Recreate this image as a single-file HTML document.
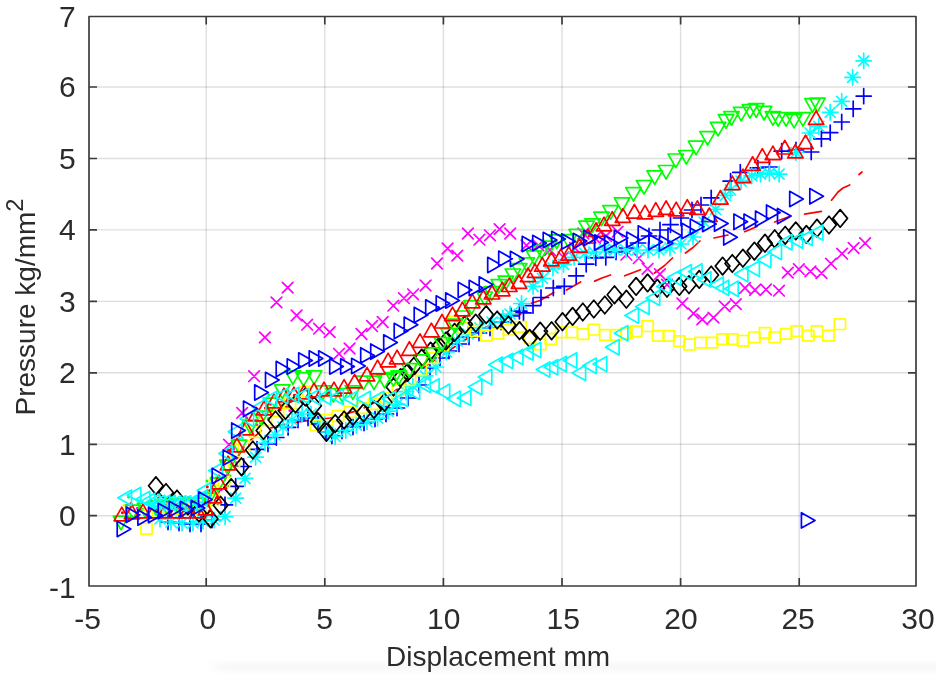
<!DOCTYPE html>
<html><head><meta charset="utf-8"><style>
html,body{margin:0;padding:0;background:#fff;width:936px;height:680px;overflow:hidden}
svg{display:block}
text{font-family:"Liberation Sans",Arial,sans-serif;fill:#2b2b2b}
.tl text{font-size:30px}
.xl{font-size:28px;text-anchor:middle}
.yl{font-size:28px;text-anchor:middle}
</style></head><body>
<svg style="filter:blur(0.45px)" width="936" height="680" viewBox="0 0 936 680">
<rect x="0" y="0" width="936" height="680" fill="#fff"/>
<defs><linearGradient id="bg1" x1="0" y1="0" x2="0" y2="1"><stop offset="0" stop-color="#fff"/><stop offset="0.5" stop-color="#f7f7f7"/><stop offset="1" stop-color="#fff"/></linearGradient><linearGradient id="bg2" x1="0" y1="0" x2="1" y2="0"><stop offset="0" stop-color="#fff" stop-opacity="1"/><stop offset="1" stop-color="#fff" stop-opacity="0"/></linearGradient></defs><rect x="205" y="659" width="731" height="16" fill="url(#bg1)"/><rect x="205" y="659" width="22" height="16" fill="url(#bg2)"/>
<path d="M206.2 16.5V586 M324.8 16.5V586 M443.4 16.5V586 M562.0 16.5V586 M680.6 16.5V586 M799.2 16.5V586" stroke="#000" stroke-opacity="0.13" stroke-width="1.4" fill="none"/>
<path d="M89 515.7H916 M89 444.3H916 M89 372.8H916 M89 301.4H916 M89 229.9H916 M89 158.5H916 M89 87.0H916" stroke="#000" stroke-opacity="0.13" stroke-width="1.4" fill="none"/>
<defs><clipPath id="clip"><rect x="89" y="16" width="827" height="570"/></clipPath></defs>
<g clip-path="url(#clip)"><path d="M128 518 L150 518 L175 518 L205 518 L215 500 L230 470 L245 445 L262 430 L290 423 L330 418 L360 410 L390 395 L420 370 L450 350 L480 330 L500 320" stroke="#ff0000" stroke-width="1.7" fill="none" stroke-dasharray="14 10" stroke-linecap="round"/>
<path d="M508.8 315.1 L520.7 314.5M531.3 303.2 L540 300.5 L553.8 292.6M566.5 290 L580.6 282M594.7 281.1 L602 278 L610.5 275M624.7 275.8 L640.5 269.7M654.5 273 L664 266 L672.5 258M685.5 253 L693 247.5 L700 241M714 238 L728 235M744.7 231.7 L757 226.5M774.7 222 L788.8 216.8M804.6 214.1 L821.4 211.3M831.5 200.2 L838 192 L843 188 L849.7 184.9M859 174.5 L862 172" stroke="#ff0000" stroke-width="1.7" fill="none" stroke-linecap="round" stroke-linejoin="round"/>
<path d="M155.6 509.8h0.01M177.7 506.9h0.01M242.1 438.2h0.01M130.6 507.3h0.01M242.8 422.9h0.01M240.7 439.4h0.01M268.8 394.9h0.01M232.6 466.4h0.01M167.3 498.8h0.01M168.7 507.2h0.01M167.7 502.4h0.01M211.9 477h0.01M265.4 414h0.01M170.3 513h0.01M143.1 509.2h0.01M252 432h0.01M266.2 409.1h0.01M236.6 465h0.01M222.5 467.8h0.01M180.2 506.1h0.01M159.3 509.8h0.01M237.5 439.7h0.01M226.3 475.9h0.01M207.3 490.6h0.01M131.7 516.3h0.01M228.4 451.7h0.01M229.3 481.7h0.01M231 464.1h0.01M229.9 475.8h0.01M211.4 486.6h0.01M281 405.1h0.01M268.4 418.5h0.01M259.8 417.1h0.01M203.7 499.2h0.01M222.4 462.6h0.01M216 477.7h0.01M226.6 471.2h0.01M207 481.1h0.01M160.9 512.7h0.01M262.9 423.4h0.01M183.9 511h0.01M128.5 497.1h0.01M246.2 418.1h0.01M231.1 443.3h0.01M155.7 499.7h0.01" stroke="#00ff00" stroke-width="3" stroke-linecap="round" fill="none"/>
<path d="M297.7 392.1h0.01M143.7 510.1h0.01M235.7 443.7h0.01M233.3 448.6h0.01M210.3 495.6h0.01M306.9 401.7h0.01M209.7 480.3h0.01M123.7 505.2h0.01M212.9 502.2h0.01M222 455.9h0.01M187.8 507.2h0.01M302.8 395.2h0.01M280.9 408.6h0.01M283 408.1h0.01M209.3 513.1h0.01M160.2 509.6h0.01M216.4 485.1h0.01M282.5 407.8h0.01M207.6 511.9h0.01M217 492.9h0.01M245.6 425.9h0.01M197.8 501h0.01M274.4 410.3h0.01M198.9 511h0.01M221.1 479.1h0.01" stroke="#ffff00" stroke-width="3" stroke-linecap="round" fill="none"/>
<path d="M174.5 505.2h0.01M233.8 447.6h0.01M127.1 505h0.01M181.8 507h0.01M263.8 414.1h0.01M155.6 512h0.01M227.1 475.5h0.01M137.4 508.2h0.01M180.2 514h0.01M221.1 489.7h0.01M252.1 430.9h0.01M257 425.1h0.01M265.3 399.6h0.01M177.1 506.1h0.01M230.5 450.8h0.01M203.9 502.1h0.01M236.6 462.8h0.01M289.8 410.5h0.01" stroke="#ff00ff" stroke-width="3" stroke-linecap="round" fill="none"/>
<path d="M166.1 505.7h0.01M146.4 503.8h0.01M286.3 407h0.01M170.6 503.3h0.01M151.2 501h0.01M289 407.2h0.01M252.4 413.9h0.01M238.3 457h0.01M265.4 407.9h0.01M239.5 435.6h0.01M209.9 490.6h0.01M270.7 404.2h0.01M280.1 409.7h0.01M266.4 408.3h0.01M229.7 450.3h0.01M195.2 499.1h0.01M131 503.5h0.01M223.5 467.1h0.01M293.9 399.4h0.01M167.8 503h0.01M205.5 501.3h0.01M233.8 457.7h0.01M127.3 511.4h0.01M228.1 449.9h0.01M158.7 498h0.01M249.6 444.4h0.01M255.8 420.2h0.01M194.1 512.6h0.01M217.7 497.8h0.01M257.2 409h0.01M207.3 486.7h0.01M288 391.3h0.01M122.4 512.7h0.01M198.8 496.7h0.01M294.3 395.3h0.01" stroke="#ff0000" stroke-width="3" stroke-linecap="round" fill="none"/>
<path d="M223.7 439.4L234.3 450M223.7 450L234.3 439.4M236.9 407.6L247.5 418.2M236.9 418.2L247.5 407.6M248.8 370.9L259.4 381.5M248.8 381.5L259.4 370.9M259.6 332.1L270.2 342.7M259.6 342.7L270.2 332.1M271.2 297.1L281.8 307.7M271.2 307.7L281.8 297.1M282.4 282.3L293 292.9M282.4 292.9L293 282.3M291.3 310.2L301.9 320.8M291.3 320.8L301.9 310.2M301.9 319.4L312.5 330M301.9 330L312.5 319.4M313.8 323.4L324.4 334M313.8 334L324.4 323.4M324.4 326.8L335 337.4M324.4 337.4L335 326.8M333.7 348.5L344.3 359.1M333.7 359.1L344.3 348.5M344.3 343.2L354.9 353.8M344.3 353.8L354.9 343.2M356.2 328.7L366.8 339.3M356.2 339.3L366.8 328.7M366.8 320.7L377.4 331.3M366.8 331.3L377.4 320.7M377.4 316.7L388 327.3M377.4 327.3L388 316.7M388 300.4L398.6 311M388 311L398.6 300.4M398.6 292.9L409.2 303.5M398.6 303.5L409.2 292.9M407.8 289L418.4 299.6M407.8 299.6L418.4 289M420.3 280.2L430.9 290.8M420.3 290.8L430.9 280.2M431.7 258.2L442.3 268.8M431.7 268.8L442.3 258.2M442.3 243.2L452.9 253.8M442.3 253.8L452.9 243.2M452 250.3L462.6 260.9M452 260.9L462.6 250.3M462.6 228.2L473.2 238.8M462.6 238.8L473.2 228.2M474.1 234.4L484.7 245M474.1 245L484.7 234.4M484.7 230L495.3 240.6M484.7 240.6L495.3 230M494.3 223.8L504.9 234.4M494.3 234.4L504.9 223.8M504.9 228.2L515.5 238.8M504.9 238.8L515.5 228.2M521.2 240.1L531.8 250.7M521.2 250.7L531.8 240.1M533.1 240.1L543.7 250.7M533.1 250.7L543.7 240.1M544.7 244.7L555.3 255.3M544.7 255.3L555.3 244.7M558.2 252L568.8 262.6M558.2 262.6L568.8 252M569.7 242.7L580.3 253.3M569.7 253.3L580.3 242.7M578 228.2L588.6 238.8M578 238.8L588.6 228.2M589.7 232.7L600.3 243.3M589.7 243.3L600.3 232.7M600.7 230.7L611.3 241.3M600.7 241.3L611.3 230.7M612.3 226.4L622.9 237M612.3 237L622.9 226.4M621.1 249.4L631.7 260M621.1 260L631.7 249.4M633.5 252.9L644.1 263.5M633.5 263.5L644.1 252.9M642.3 263.5L652.9 274.1M642.3 274.1L652.9 263.5M654.6 268.8L665.2 279.4M654.6 279.4L665.2 268.8M661.7 279.4L672.3 290M661.7 290L672.3 279.4M677.1 298.2L687.7 308.8M677.1 308.8L687.7 298.2M688.2 308.2L698.8 318.8M688.2 318.8L698.8 308.2M697 314.1L707.6 324.7M697 324.7L707.6 314.1M708.2 312.3L718.8 322.9M708.2 322.9L718.8 312.3M719.4 301.1L730 311.7M719.4 311.7L730 301.1M730.5 298.8L741.1 309.4M730.5 309.4L741.1 298.8M739.7 282.7L750.3 293.3M739.7 293.3L750.3 282.7M749.7 284.7L760.3 295.3M749.7 295.3L760.3 284.7M760.7 284.2L771.3 294.8M760.7 294.8L771.3 284.2M773.7 285.4L784.3 296M773.7 296L784.3 285.4M782.5 267.3L793.1 277.9M782.5 277.9L793.1 267.3M793.6 263.9L804.2 274.5M793.6 274.5L804.2 263.9M805.1 266.1L815.7 276.7M805.1 276.7L815.7 266.1M816.2 267.8L826.8 278.4M816.2 278.4L826.8 267.8M825.7 258.4L836.3 269M825.7 269L836.3 258.4M836.8 248.4L847.4 259M836.8 259L847.4 248.4M848.3 242.7L858.9 253.3M848.3 253.3L858.9 242.7M859.8 237.9L870.4 248.5M859.8 248.5L870.4 237.9" stroke="#ff00ff" stroke-width="1.7" fill="none" stroke-linejoin="round" stroke-linecap="round"/>
<path d="M160.4 522H175.6M168 514.4V529.6M171.4 523H186.6M179 515.4V530.6M182.4 524H197.6M190 516.4V531.6M193.4 524H208.6M201 516.4V531.6M204.4 520H219.6M212 512.4V527.6M217.4 504.8H232.6M225 497.2V512.4M228.1 486.3H243.3M235.7 478.7V493.9M236.1 466.5H251.3M243.7 458.9V474.1M249.4 449.3H264.6M257 441.7V456.9M260.4 444H275.6M268 436.4V451.6M268.7 437.5H283.9M276.3 429.9V445.1M280.5 427.4H295.7M288.1 419.8V435M290.4 420H305.6M298 412.4V427.6M300.4 418H315.6M308 410.4V425.6M310.4 424H325.6M318 416.4V431.6M318.4 432H333.6M326 424.4V439.6M324.3 436H339.5M331.9 428.4V443.6M334.4 431H349.6M342 423.4V438.6M345.4 427H360.6M353 419.4V434.6M356.4 423H371.6M364 415.4V430.6M367.4 419H382.6M375 411.4V426.6M378.4 414H393.6M386 406.4V421.6M389.4 408H404.6M397 400.4V415.6M400.4 398H415.6M408 390.4V405.6M411.4 385H426.6M419 377.4V392.6M422.4 368H437.6M430 360.4V375.6M432.4 358H447.6M440 350.4V365.6M441.4 351H456.6M449 343.4V358.6M451.4 344H466.6M459 336.4V351.6M461.4 337H476.6M469 329.4V344.6M471.4 333H486.6M479 325.4V340.6M482.4 328H497.6M490 320.4V335.6M493.4 322H508.6M501 314.4V329.6M503.4 316H518.6M511 308.4V323.6M511.8 311.2H527M519.4 303.6V318.8M515.9 312.9H531.1M523.5 305.3V320.5M525.4 305.6H540.6M533 298V313.2M533.4 297.5H548.6M541 289.9V305.1M545.7 288H560.9M553.3 280.4V295.6M556.7 286.4H571.9M564.3 278.8V294M568.6 275.8H583.8M576.2 268.2V283.4M578.6 264.2H593.8M586.2 256.6V271.8M588.2 257.8H603.4M595.8 250.2V265.4M598.2 257.3H613.4M605.8 249.7V264.9M608.4 252H623.6M616 244.4V259.6M619.4 248H634.6M627 240.4V255.6M630.4 243H645.6M638 235.4V250.6M641.4 236H656.6M649 228.4V243.6M652.4 230H667.6M660 222.4V237.6M662.9 224.7H678.1M670.5 217.1V232.3M673.4 218H688.6M681 210.4V225.6M684.4 210H699.6M692 202.4V217.6M693.4 205H708.6M701 197.4V212.6M703.6 197.9H718.8M711.2 190.3V205.5M723 181.1H738.2M730.6 173.5V188.7M732.7 172.3H747.9M740.3 164.7V179.9M750.3 167.9H765.5M757.9 160.3V175.5M761.8 167H777M769.4 159.4V174.6M774.1 151.2H789.3M781.7 143.6V158.8M788.4 150H803.6M796 142.4V157.6M803.6 152H818.8M811.2 144.4V159.6M813.8 138.8H829M821.4 131.2V146.4M822.6 132.6H837.8M830.2 125V140.2M834.1 122H849.3M841.7 114.4V129.6M845.6 108.8H860.8M853.2 101.2V116.4M856.1 96.1H871.3M863.7 88.5V103.7" stroke="#0000ff" stroke-width="1.7" fill="none" stroke-linejoin="round" stroke-linecap="round"/>
<path d="M152.3 519H167.7M160 511.3V526.7M155 514L165 524M155 524L165 514M163.3 522H178.7M171 514.3V529.7M166 517L176 527M166 527L176 517M174.3 523H189.7M182 515.3V530.7M177 518L187 528M177 528L187 518M185.3 523H200.7M193 515.3V530.7M188 518L198 528M188 528L198 518M195.3 521H210.7M203 513.3V528.7M198 516L208 526M198 526L208 516M206.3 520H221.7M214 512.3V527.7M209 515L219 525M209 525L219 515M217.4 516.7H232.8M225.1 509V524.4M220.1 511.7L230.1 521.7M220.1 521.7L230.1 511.7M228 498.2H243.4M235.7 490.5V505.9M230.7 493.2L240.7 503.2M230.7 503.2L240.7 493.2M237.3 478.4H252.7M245 470.7V486.1M240 473.4L250 483.4M240 483.4L250 473.4M247.9 457.2H263.3M255.6 449.5V464.9M250.6 452.2L260.6 462.2M250.6 462.2L260.6 452.2M257.3 443H272.7M265 435.3V450.7M260 438L270 448M260 448L270 438M267.3 435H282.7M275 427.3V442.7M270 430L280 440M270 440L280 430M275.3 427H290.7M283 419.3V434.7M278 422L288 432M278 432L288 422M284.3 420H299.7M292 412.3V427.7M287 415L297 425M287 425L297 415M294.3 414H309.7M302 406.3V421.7M297 409L307 419M297 419L307 409M303.3 414H318.7M311 406.3V421.7M306 409L316 419M306 419L316 409M312.3 422H327.7M320 414.3V429.7M315 417L325 427M315 427L325 417M320.3 432H335.7M328 424.3V439.7M323 427L333 437M323 437L333 427M327.5 436.5H342.9M335.2 428.8V444.2M330.2 431.5L340.2 441.5M330.2 441.5L340.2 431.5M338.1 430.5H353.5M345.8 422.8V438.2M340.8 425.5L350.8 435.5M340.8 435.5L350.8 425.5M348.7 425.2H364.1M356.4 417.5V432.9M351.4 420.2L361.4 430.2M351.4 430.2L361.4 420.2M359.3 421.7H374.7M367 414V429.4M362 416.7L372 426.7M362 426.7L372 416.7M369.9 418.2H385.3M377.6 410.5V425.9M372.6 413.2L382.6 423.2M372.6 423.2L382.6 413.2M380.4 411.1H395.8M388.1 403.4V418.8M383.1 406.1L393.1 416.1M383.1 416.1L393.1 406.1M389.3 404.1H404.7M397 396.4V411.8M392 399.1L402 409.1M392 409.1L402 399.1M398.2 391.7H413.6M405.9 384V399.4M400.9 386.7L410.9 396.7M400.9 396.7L410.9 386.7M405.2 386.4H420.6M412.9 378.7V394.1M407.9 381.4L417.9 391.4M407.9 391.4L417.9 381.4M417.6 375.9H433M425.3 368.2V383.6M420.3 370.9L430.3 380.9M420.3 380.9L430.3 370.9M428.2 367H443.6M435.9 359.3V374.7M430.9 362L440.9 372M430.9 372L440.9 362M438.7 352H454.1M446.4 344.3V359.7M441.4 347L451.4 357M441.4 357L451.4 347M449.3 341H464.7M457 333.3V348.7M452 336L462 346M452 346L462 336M460.3 334H475.7M468 326.3V341.7M463 329L473 339M463 339L473 329M472.3 328H487.7M480 320.3V335.7M475 323L485 333M475 333L485 323M484.3 322H499.7M492 314.3V329.7M487 317L497 327M487 327L497 317M495.3 318H510.7M503 310.3V325.7M498 313L508 323M498 323L508 313M502.3 314H517.7M510 306.3V321.7M505 309L515 319M505 319L515 309M513.8 303.5H529.2M521.5 295.8V311.2M516.5 298.5L526.5 308.5M516.5 308.5L526.5 298.5M525.4 286.4H540.8M533.1 278.7V294.1M528.1 281.4L538.1 291.4M528.1 291.4L538.1 281.4M534.8 278.5H550.2M542.5 270.8V286.2M537.5 273.5L547.5 283.5M537.5 283.5L547.5 273.5M545.2 267.9H560.6M552.9 260.2V275.6M547.9 262.9L557.9 272.9M547.9 272.9L557.9 262.9M555.8 264.4H571.2M563.5 256.7V272.1M558.5 259.4L568.5 269.4M558.5 269.4L568.5 259.4M566.4 257.3H581.8M574.1 249.6V265M569.1 252.3L579.1 262.3M569.1 262.3L579.1 252.3M577 253.4H592.4M584.7 245.7V261.1M579.7 248.4L589.7 258.4M579.7 258.4L589.7 248.4M586.2 252H601.6M593.9 244.3V259.7M588.9 247L598.9 257M588.9 257L598.9 247M596.8 249.4H612.2M604.5 241.7V257.1M599.5 244.4L609.5 254.4M599.5 254.4L609.5 244.4M607.3 250H622.7M615 242.3V257.7M610 245L620 255M610 255L620 245M618.3 250H633.7M626 242.3V257.7M621 245L631 255M621 255L631 245M629.3 250H644.7M637 242.3V257.7M632 245L642 255M632 255L642 245M640.3 250H655.7M648 242.3V257.7M643 245L653 255M643 255L653 245M651.3 250H666.7M659 242.3V257.7M654 245L664 255M654 255L664 245M662.3 248H677.7M670 240.3V255.7M665 243L675 253M665 253L675 243M673.3 244H688.7M681 236.3V251.7M676 239L686 249M676 249L686 239M685.3 237H700.7M693 229.3V244.7M688 232L698 242M688 242L698 232M696.3 222H711.7M704 214.3V229.7M699 217L709 227M699 227L709 217M707.9 209.4H723.3M715.6 201.7V217.1M710.6 204.4L720.6 214.4M710.6 214.4L720.6 204.4M717.6 195.3H733M725.3 187.6V203M720.3 190.3L730.3 200.3M720.3 200.3L730.3 190.3M722.9 190H738.3M730.6 182.3V197.7M725.6 185L735.6 195M725.6 195L735.6 185M733.4 181.1H748.8M741.1 173.4V188.8M736.1 176.1L746.1 186.1M736.1 186.1L746.1 176.1M744 175.9H759.4M751.7 168.2V183.6M746.7 170.9L756.7 180.9M746.7 180.9L756.7 170.9M752.8 174.1H768.2M760.5 166.4V181.8M755.5 169.1L765.5 179.1M755.5 179.1L765.5 169.1M761.7 173.2H777.1M769.4 165.5V180.9M764.4 168.2L774.4 178.2M764.4 178.2L774.4 168.2M771.4 174.1H786.8M779.1 166.4V181.8M774.1 169.1L784.1 179.1M774.1 179.1L784.1 169.1M788.3 152.5H803.7M796 144.8V160.2M791 147.5L801 157.5M791 157.5L801 147.5M802.3 133H817.7M810 125.3V140.7M805 128L815 138M805 138L815 128M811.1 126.4H826.5M818.8 118.7V134.1M813.8 121.4L823.8 131.4M813.8 131.4L823.8 121.4M822.5 112.3H837.9M830.2 104.6V120M825.2 107.3L835.2 117.3M825.2 117.3L835.2 107.3M834 101.4H849.4M841.7 93.7V109.1M836.7 96.4L846.7 106.4M836.7 106.4L846.7 96.4M844.9 77.4H860.3M852.6 69.7V85.1M847.6 72.4L857.6 82.4M847.6 82.4L857.6 72.4M856 60.8H871.4M863.7 53.1V68.5M858.7 55.8L868.7 65.8M858.7 65.8L868.7 55.8" stroke="#00ffff" stroke-width="1.7" fill="none" stroke-linejoin="round" stroke-linecap="round"/>
<path d="M140.9 523.5H152.1V534.1H140.9ZM152.4 506.7H163.6V517.3H152.4ZM164.4 503.7H175.6V514.3H164.4ZM176.4 503.7H187.6V514.3H176.4ZM188.4 503.7H199.6V514.3H188.4ZM199.4 501.7H210.6V512.3H199.4ZM208.4 494.7H219.6V505.3H208.4ZM218.4 476.7H229.6V487.3H218.4ZM228.4 456.7H239.6V467.3H228.4ZM238.4 440.7H249.6V451.3H238.4ZM249.4 426.7H260.6V437.3H249.4ZM260.4 414.7H271.6V425.3H260.4ZM272.4 405.7H283.6V416.3H272.4ZM284.4 397.7H295.6V408.3H284.4ZM299.7 386.4H310.9V397H299.7ZM310.2 419.9H321.4V430.5H310.2ZM321.4 414.7H332.6V425.3H321.4ZM332.4 410.7H343.6V421.3H332.4ZM344.4 406.7H355.6V417.3H344.4ZM356.4 402.7H367.6V413.3H356.4ZM368.4 398.7H379.6V409.3H368.4ZM380.4 392.7H391.6V403.3H380.4ZM392.4 384.7H403.6V395.3H392.4ZM404.4 374.7H415.6V385.3H404.4ZM415.4 364.7H426.6V375.3H415.4ZM426.4 352.7H437.6V363.3H426.4ZM437.4 339.7H448.6V350.3H437.4ZM447.6 316.4H458.8V327H447.6ZM457.4 322.7H468.6V333.3H457.4ZM470.1 325.7H481.3V336.3H470.1ZM480.7 330.3H491.9V340.9H480.7ZM492.4 328.3H503.6V338.9H492.4ZM503.2 324.4H514.4V335H503.2ZM515 321.5H526.2V332.1H515ZM524.4 332.7H535.6V343.3H524.4ZM534.7 339.1H545.9V349.7H534.7ZM545.2 333.7H556.4V344.3H545.2ZM555.6 327H566.8V337.6H555.6ZM566.1 327H577.3V337.6H566.1ZM577.6 328.8H588.8V339.4H577.6ZM588.2 324.4H599.4V335H588.2ZM599.7 329.7H610.9V340.3H599.7ZM610.2 329.7H621.4V340.3H610.2ZM620.8 327.9H632V338.5H620.8ZM630.5 326.1H641.7V336.7H630.5ZM642 320.9H653.2V331.5H642ZM652.6 330.6H663.8V341.2H652.6ZM663.1 330.6H674.3V341.2H663.1ZM673.7 335.8H684.9V346.4H673.7ZM683.8 339.2H695V349.8H683.8ZM695 337.3H706.2V347.9H695ZM706.4 337.3H717.6V347.9H706.4ZM717 333.8H728.2V344.4H717ZM726.7 333.8H737.9V344.4H726.7ZM737.3 335.5H748.5V346.1H737.3ZM748.8 332H760V342.6H748.8ZM759.4 327.6H770.6V338.2H759.4ZM769.1 332H780.3V342.6H769.1ZM780.5 328.5H791.7V339.1H780.5ZM791.1 325.8H802.3V336.4H791.1ZM802.6 330.3H813.8V340.9H802.6ZM811.4 325.8H822.6V336.4H811.4ZM822.8 330.3H834V340.9H822.8ZM834.3 318.9H845.5V329.5H834.3Z" stroke="#ffff00" stroke-width="1.7" fill="none" stroke-linejoin="round" stroke-linecap="round"/>
<path d="M155.9 476.9L163.2 485.7L155.9 494.5L148.6 485.7ZM166 483.7L173.3 492.5L166 501.3L158.7 492.5ZM177 490.2L184.3 499L177 507.8L169.7 499ZM188 497.2L195.3 506L188 514.8L180.7 506ZM199 504.2L206.3 513L199 521.8L191.7 513ZM210.6 510L217.9 518.8L210.6 527.6L203.3 518.8ZM220.6 496.5L227.9 505.3L220.6 514.1L213.3 505.3ZM231.2 478.8L238.5 487.6L231.2 496.4L223.9 487.6ZM241.5 458L248.8 466.8L241.5 475.6L234.2 466.8ZM252.8 441.2L260.1 450L252.8 458.8L245.5 450ZM263.5 421.7L270.8 430.5L263.5 439.3L256.2 430.5ZM275.5 411.2L282.8 420L275.5 428.8L268.2 420ZM285.5 401.7L292.8 410.5L285.5 419.3L278.2 410.5ZM295.5 395.2L302.8 404L295.5 412.8L288.2 404ZM305.3 388.2L312.6 397L305.3 405.8L298 397ZM314.1 397L321.4 405.8L314.1 414.6L306.8 405.8ZM318 412.9L325.3 421.7L318 430.5L310.7 421.7ZM326.4 423.5L333.7 432.3L326.4 441.1L319.1 432.3ZM335.2 414.7L342.5 423.5L335.2 432.3L327.9 423.5ZM344.1 411.2L351.4 420L344.1 428.8L336.8 420ZM352.9 407.6L360.2 416.4L352.9 425.2L345.6 416.4ZM363.5 404.1L370.8 412.9L363.5 421.7L356.2 412.9ZM374 400.6L381.3 409.4L374 418.2L366.7 409.4ZM384.6 393.5L391.9 402.3L384.6 411.1L377.3 402.3ZM393.5 378.2L400.8 387L393.5 395.8L386.2 387ZM400.6 368.8L407.9 377.6L400.6 386.4L393.3 377.6ZM407.6 363.5L414.9 372.3L407.6 381.1L400.3 372.3ZM414.7 356.5L422 365.3L414.7 374.1L407.4 365.3ZM421.7 349.4L429 358.2L421.7 367L414.4 358.2ZM430.6 342.3L437.9 351.1L430.6 359.9L423.3 351.1ZM439.4 337.1L446.7 345.9L439.4 354.7L432.1 345.9ZM446 332.2L453.3 341L446 349.8L438.7 341ZM454.6 323.5L461.9 332.3L454.6 341.1L447.3 332.3ZM465.1 315.6L472.4 324.4L465.1 333.2L457.8 324.4ZM475.7 314.3L483 323.1L475.7 331.9L468.4 323.1ZM486.2 305.9L493.5 314.7L486.2 323.5L478.9 314.7ZM497.2 311.2L504.5 320L497.2 328.8L489.9 320ZM508.5 316.2L515.8 325L508.5 333.8L501.2 325ZM519.5 321.9L526.8 330.7L519.5 339.5L512.2 330.7ZM529.6 329.6L536.9 338.4L529.6 347.2L522.3 338.4ZM540.2 322.4L547.5 331.2L540.2 340L532.9 331.2ZM551.6 322L558.9 330.8L551.6 339.6L544.3 330.8ZM562.5 312.9L569.8 321.7L562.5 330.5L555.2 321.7ZM572.6 307.6L579.9 316.4L572.6 325.2L565.3 316.4ZM582.8 303.2L590.1 312L582.8 320.8L575.5 312ZM593.8 300.2L601.1 309L593.8 317.8L586.5 309ZM604.8 296.2L612.1 305L604.8 313.8L597.5 305ZM614.5 286L621.8 294.8L614.5 303.6L607.2 294.8ZM626.4 290.4L633.7 299.2L626.4 308L619.1 299.2ZM636.1 277.6L643.4 286.4L636.1 295.2L628.8 286.4ZM647.6 274.1L654.9 282.9L647.6 291.7L640.3 282.9ZM657.3 279.4L664.6 288.2L657.3 297L650 288.2ZM667 279.4L674.3 288.2L667 297L659.7 288.2ZM679.3 277.6L686.6 286.4L679.3 295.2L672 286.4ZM689 275.9L696.3 284.7L689 293.5L681.7 284.7ZM699.2 270.6L706.5 279.4L699.2 288.2L691.9 279.4ZM711.2 266.2L718.5 275L711.2 283.8L703.9 275ZM722.6 257.3L729.9 266.1L722.6 274.9L715.3 266.1ZM732.3 254.7L739.6 263.5L732.3 272.3L725 263.5ZM742.9 249.4L750.2 258.2L742.9 267L735.6 258.2ZM754.4 242.3L761.7 251.1L754.4 259.9L747.1 251.1ZM765 234.4L772.3 243.2L765 252L757.7 243.2ZM774.7 230L782 238.8L774.7 247.6L767.4 238.8ZM785.2 226.5L792.5 235.3L785.2 244.1L777.9 235.3ZM795.8 222.1L803.1 230.9L795.8 239.7L788.5 230.9ZM806.4 225.6L813.7 234.4L806.4 243.2L799.1 234.4ZM817 219.4L824.3 228.2L817 237L809.7 228.2ZM829 216.2L836.3 225L829 233.8L821.7 225ZM840.2 209.6L847.5 218.4L840.2 227.2L832.9 218.4Z" stroke="#000000" stroke-width="1.7" fill="none" stroke-linejoin="round" stroke-linecap="round"/>
<path d="M113.3 516.2L128.7 516.2L121 529.8ZM125.3 505.2L140.7 505.2L133 518.8ZM137.3 503.2L152.7 503.2L145 516.8ZM148.3 501.2L163.7 501.2L156 514.8ZM159.3 500.2L174.7 500.2L167 513.8ZM170.3 499.2L185.7 499.2L178 512.8ZM181.3 498.2L196.7 498.2L189 511.8ZM191.3 498.2L206.7 498.2L199 511.8ZM200.3 493.2L215.7 493.2L208 506.8ZM210.3 478.2L225.7 478.2L218 491.8ZM219.7 460.2L235.1 460.2L227.4 473.8ZM231.4 440.2L246.8 440.2L239.1 453.8ZM242.6 420.2L258 420.2L250.3 433.8ZM253.3 411.2L268.7 411.2L261 424.8ZM263.3 398.2L278.7 398.2L271 411.8ZM274.6 384.9L290 384.9L282.3 398.5ZM285.2 370.8L300.6 370.8L292.9 384.4ZM295.8 372.6L311.2 372.6L303.5 386.2ZM306.4 370.8L321.8 370.8L314.1 384.4ZM315.2 385.8L330.6 385.8L322.9 399.4ZM325.8 388.5L341.2 388.5L333.5 402.1ZM334.6 388.5L350 388.5L342.3 402.1ZM345.2 385.8L360.6 385.8L352.9 399.4ZM355.8 376.1L371.2 376.1L363.5 389.7ZM366.3 376.1L381.7 376.1L374 389.7ZM376.9 374.3L392.3 374.3L384.6 387.9ZM385.7 372.6L401.1 372.6L393.4 386.2ZM391.1 370.8L406.5 370.8L398.8 384.4ZM401.7 363.7L417.1 363.7L409.4 377.3ZM414 354.9L429.4 354.9L421.7 368.5ZM424.6 347.9L440 347.9L432.3 361.5ZM434.2 337.5L449.6 337.5L441.9 351.1ZM440.8 328.7L456.2 328.7L448.5 342.3ZM447.3 319.2L462.7 319.2L455 332.8ZM454.8 311L470.2 311L462.5 324.6ZM463.8 300.7L479.2 300.7L471.5 314.3ZM477 292L492.4 292L484.7 305.6ZM484 286.7L499.4 286.7L491.7 300.3ZM491.1 279.6L506.5 279.6L498.8 293.2ZM498.1 276.1L513.5 276.1L505.8 289.7ZM505.2 269L520.6 269L512.9 282.6ZM511.5 263.7L526.9 263.7L519.2 277.3ZM519.1 257.8L534.5 257.8L526.8 271.4ZM526.5 250.9L541.9 250.9L534.2 264.5ZM534 245L549.4 245L541.7 258.6ZM541.5 241.2L556.9 241.2L549.2 254.8ZM549 234.9L564.4 234.9L556.7 248.5ZM561.1 234.7L576.5 234.7L568.8 248.3ZM569 229.4L584.4 229.4L576.7 243ZM578.8 221.2L594.2 221.2L586.5 234.8ZM584.9 218.8L600.3 218.8L592.6 232.4ZM593.8 212.2L609.2 212.2L601.5 225.8ZM602.8 205.7L618.2 205.7L610.5 219.3ZM614.3 197.9L629.7 197.9L622 211.5ZM625.8 187.6L641.2 187.6L633.5 201.2ZM636.4 180.5L651.8 180.5L644.1 194.1ZM647 170.8L662.4 170.8L654.7 184.4ZM658.4 165.5L673.8 165.5L666.1 179.1ZM668.1 154L683.5 154L675.8 167.6ZM678.7 150.5L694.1 150.5L686.4 164.1ZM688.4 141.2L703.8 141.2L696.1 154.8ZM699.9 131.6L715.3 131.6L707.6 145.2ZM710.4 122.3L725.8 122.3L718.1 135.9ZM718.3 114.7L733.7 114.7L726 128.3ZM723.8 111.7L739.2 111.7L731.5 125.3ZM733.5 107.3L748.9 107.3L741.2 120.9ZM742.3 104.6L757.7 104.6L750 118.2ZM748.5 103.7L763.9 103.7L756.2 117.3ZM756.4 106.4L771.8 106.4L764.1 120ZM765.2 111.7L780.6 111.7L772.9 125.3ZM770.5 112.6L785.9 112.6L778.2 126.2ZM778.4 112.6L793.8 112.6L786.1 126.2ZM786.4 114.3L801.8 114.3L794.1 127.9ZM795.2 112.6L810.6 112.6L802.9 126.2ZM804.8 98.7L820.2 98.7L812.5 112.3ZM809.8 98.2L825.2 98.2L817.5 111.8Z" stroke="#00ff00" stroke-width="1.7" fill="none" stroke-linejoin="round" stroke-linecap="round"/>
<path d="M114.1 520.8L121.8 507.2L129.5 520.8ZM124.3 518.8L132 505.2L139.7 518.8ZM135.3 517.8L143 504.2L150.7 517.8ZM146.3 517.8L154 504.2L161.7 517.8ZM157.3 517.8L165 504.2L172.7 517.8ZM168.3 517.8L176 504.2L183.7 517.8ZM179.3 517.8L187 504.2L194.7 517.8ZM190.3 517.8L198 504.2L205.7 517.8ZM198.3 514.8L206 501.2L213.7 514.8ZM206.3 502.8L214 489.2L221.7 502.8ZM211.3 488.8L219 475.2L226.7 488.8ZM220.3 469.8L228 456.2L235.7 469.8ZM229.3 451.8L237 438.2L244.7 451.8ZM238.3 434.8L246 421.2L253.7 434.8ZM248.3 420.8L256 407.2L263.7 420.8ZM256.3 414.8L264 401.2L271.7 414.8ZM266.3 407.8L274 394.2L281.7 407.8ZM276.3 401.8L284 388.2L291.7 401.8ZM286.3 400.8L294 387.2L301.7 400.8ZM296.3 398.8L304 385.2L311.7 398.8ZM306.3 396.8L314 383.2L321.7 396.8ZM316.3 395.8L324 382.2L331.7 395.8ZM326.3 395.8L334 382.2L341.7 395.8ZM336.4 393.2L344.1 379.6L351.8 393.2ZM346.9 387.9L354.6 374.3L362.3 387.9ZM359.3 380.9L367 367.3L374.7 380.9ZM369.9 373.8L377.6 360.2L385.3 373.8ZM380.4 366.8L388.1 353.2L395.8 366.8ZM389.4 363.8L397.1 350.2L404.8 363.8ZM401.7 355.3L409.4 341.7L417.1 355.3ZM412.3 347.4L420 333.8L427.7 347.4ZM423.7 336.8L431.4 323.2L439.1 336.8ZM434.3 328L442 314.4L449.7 328ZM444.8 320.7L452.5 307.1L460.2 320.7ZM454.7 315.8L462.4 302.2L470.1 315.8ZM464.6 307.8L472.3 294.2L480 307.8ZM475.6 303.8L483.3 290.2L491 303.8ZM484.3 299L492 285.4L499.7 299ZM494.6 295.8L502.3 282.2L510 295.8ZM501.6 291.5L509.3 277.9L517 291.5ZM511.3 288.4L519 274.8L526.7 288.4ZM520.3 281.6L528 268L535.7 281.6ZM527.3 277.4L535 263.8L542.7 277.4ZM534.6 271.2L542.3 257.6L550 271.2ZM543.7 265.9L551.4 252.3L559.1 265.9ZM553.1 262.8L560.8 249.2L568.5 262.8ZM561.1 260.2L568.8 246.6L576.5 260.2ZM571.7 252.2L579.4 238.6L587.1 252.2ZM580.3 243L588 229.4L595.7 243ZM588.3 236.4L596 222.8L603.7 236.4ZM596.3 230.8L604 217.2L611.7 230.8ZM604.6 225.3L612.3 211.7L620 225.3ZM615.2 222.3L622.9 208.7L630.6 222.3ZM626.7 218.1L634.4 204.5L642.1 218.1ZM637.3 218.9L645 205.3L652.7 218.9ZM648.1 216.3L655.8 202.7L663.5 216.3ZM658.4 214.4L666.1 200.8L673.8 214.4ZM668.5 215.8L676.2 202.2L683.9 215.8ZM679.6 213.2L687.3 199.6L695 213.2ZM689.7 214.4L697.4 200.8L705.1 214.4ZM701.7 221.5L709.4 207.9L717.1 221.5ZM712.7 204.2L720.4 190.6L728.1 204.2ZM724.6 189.7L732.3 176.1L740 189.7ZM735.2 182.7L742.9 169.1L750.6 182.7ZM744.9 170.3L752.6 156.7L760.3 170.3ZM754.6 162.3L762.3 148.7L770 162.3ZM765.2 159.7L772.9 146.1L780.6 159.7ZM777.1 154L784.8 140.4L792.5 154ZM787.7 157.9L795.4 144.3L803.1 157.9ZM797.8 148.7L805.5 135.1L813.2 148.7ZM808.4 124.4L816.1 110.8L823.8 124.4Z" stroke="#ff0000" stroke-width="1.7" fill="none" stroke-linejoin="round" stroke-linecap="round"/>
<path d="M131.5 490.1L117.9 497.8L131.5 505.5ZM140.8 487.3L127.2 495L140.8 502.7ZM149.8 491.3L136.2 499L149.8 506.7ZM154.8 493.3L141.2 501L154.8 508.7ZM159.8 494.3L146.2 502L159.8 509.7ZM164.8 495.3L151.2 503L164.8 510.7ZM169.8 495.3L156.2 503L169.8 510.7ZM175.3 495.3L161.7 503L175.3 510.7ZM180.8 495.8L167.2 503.5L180.8 511.2ZM185.8 495.8L172.2 503.5L185.8 511.2ZM190.8 495.8L177.2 503.5L190.8 511.2ZM196.8 495.3L183.2 503L196.8 510.7ZM202.8 494.3L189.2 502L202.8 509.7ZM206.8 490.3L193.2 498L206.8 505.7ZM210.8 482.6L197.2 490.3L210.8 498ZM222.4 462.9L208.8 470.6L222.4 478.3ZM232.4 445.8L218.8 453.5L232.4 461.2ZM241.8 424.1L228.2 431.8L241.8 439.5ZM253.6 411.1L240 418.8L253.6 426.5ZM265.8 399.3L252.2 407L265.8 414.7ZM276.8 391.3L263.2 399L276.8 406.7ZM287.8 388.3L274.2 396L287.8 403.7ZM298.8 387.3L285.2 395L298.8 402.7ZM308.8 388.3L295.2 396L308.8 403.7ZM319.8 389.3L306.2 397L319.8 404.7ZM330.8 389.3L317.2 397L330.8 404.7ZM343.3 389.3L329.7 397L343.3 404.7ZM357.4 391.3L343.8 399L357.4 406.7ZM370.3 391.3L356.7 399L370.3 406.7ZM383.8 391.3L370.2 399L383.8 406.7ZM395.8 391.3L382.2 399L395.8 406.7ZM407.4 391.1L393.8 398.8L407.4 406.5ZM419.7 384L406.1 391.7L419.7 399.4ZM430.3 377L416.7 384.7L430.3 392.4ZM439.1 378.7L425.5 386.4L439.1 394.1ZM449.7 384L436.1 391.7L449.7 399.4ZM460.3 391.1L446.7 398.8L460.3 406.5ZM470.9 390.2L457.3 397.9L470.9 405.6ZM481.8 379.3L468.2 387L481.8 394.7ZM491.8 369.3L478.2 377L491.8 384.7ZM502.3 357.1L488.7 364.8L502.3 372.5ZM512.8 353.3L499.2 361L512.8 368.7ZM522.9 349.3L509.3 357L522.9 364.7ZM533 344.8L519.4 352.5L533 360.2ZM540.8 342.3L527.2 350L540.8 357.7ZM549.8 361.9L536.2 369.6L549.8 377.3ZM557.8 359.5L544.2 367.2L557.8 374.9ZM566.2 356.4L552.6 364.1L566.2 371.8ZM576.8 352.8L563.2 360.5L576.8 368.2ZM585.6 365.2L572 372.9L585.6 380.6ZM596.2 358.1L582.6 365.8L596.2 373.5ZM606.8 356.4L593.2 364.1L606.8 371.8ZM619.1 339.6L605.5 347.3L619.1 355ZM627.9 325.5L614.3 333.2L627.9 340.9ZM638.5 307.8L624.9 315.5L638.5 323.2ZM649.1 299L635.5 306.7L649.1 314.4ZM659.7 290.2L646.1 297.9L659.7 305.6ZM670.3 278.7L656.7 286.4L670.3 294.1ZM680.8 269.9L667.2 277.6L680.8 285.3ZM691.4 264.6L677.8 272.3L691.4 280ZM702 263.7L688.4 271.4L702 279.1ZM710.9 271.7L697.3 279.4L710.9 287.1ZM723.3 277L709.7 284.7L723.3 292.4ZM728.8 280.2L715.2 287.9L728.8 295.6ZM738.2 281.1L724.6 288.8L738.2 296.5ZM747.9 266.4L734.3 274.1L747.9 281.8ZM759.4 261.1L745.8 268.8L759.4 276.5ZM770.9 252.3L757.3 260L770.9 267.7ZM781.5 244.3L767.9 252L781.5 259.7ZM792 234.6L778.4 242.3L792 250ZM802.6 232.9L789 240.6L802.6 248.3ZM812.3 230.2L798.7 237.9L812.3 245.6ZM822.9 224.9L809.3 232.6L822.9 240.3Z" stroke="#00ffff" stroke-width="1.7" fill="none" stroke-linejoin="round" stroke-linecap="round"/>
<path d="M117.2 521.3L130.8 529L117.2 536.7ZM126.2 507L139.8 514.7L126.2 522.4ZM137.9 509.9L151.5 517.6L137.9 525.3ZM148.5 507.3L162.1 515L148.5 522.7ZM158.2 503.3L171.8 511L158.2 518.7ZM169.2 501.3L182.8 509L169.2 516.7ZM180.2 501.3L193.8 509L180.2 516.7ZM191.2 500.3L204.8 508L191.2 515.7ZM198.5 491.8L212.1 499.5L198.5 507.2ZM212.2 468.3L225.8 476L212.2 483.7ZM223.2 449.9L236.8 457.6L223.2 465.3ZM231.7 422.9L245.3 430.6L231.7 438.3ZM243.5 401.1L257.1 408.8L243.5 416.5ZM254.7 384.8L268.3 392.5L254.7 400.2ZM265.5 372.3L279.1 380L265.5 387.7ZM276.2 361.3L289.8 369L276.2 376.7ZM287.2 358.8L300.8 366.5L287.2 374.2ZM298.7 352.8L312.3 360.5L298.7 368.2ZM309.2 350.8L322.8 358.5L309.2 366.2ZM318.7 350.8L332.3 358.5L318.7 366.2ZM329.7 358.8L343.3 366.5L329.7 374.2ZM340.7 358.8L354.3 366.5L340.7 374.2ZM351.6 358.3L365.2 366L351.6 373.7ZM360.7 347.7L374.3 355.4L360.7 363.1ZM370.7 343.9L384.3 351.6L370.7 359.3ZM383.7 334.8L397.3 342.5L383.7 350.2ZM394.2 323.3L407.8 331L394.2 338.7ZM404.2 317L417.8 324.7L404.2 332.4ZM414.2 307.3L427.8 315L414.2 322.7ZM425.7 299.8L439.3 307.5L425.7 315.2ZM436.2 295.8L449.8 303.5L436.2 311.2ZM445.7 292.8L459.3 300.5L445.7 308.2ZM458.2 282.3L471.8 290L458.2 297.7ZM469.2 280.3L482.8 288L469.2 295.7ZM479.2 276.8L492.8 284.5L479.2 292.2ZM487.7 257.3L501.3 265L487.7 272.7ZM498.7 251L512.3 258.7L498.7 266.4ZM510.4 251.3L524 259L510.4 266.7ZM522.2 236.3L535.8 244L522.2 251.7ZM532.7 235.3L546.3 243L532.7 250.7ZM543.2 232.3L556.8 240L543.2 247.7ZM551.7 231.3L565.3 239L551.7 246.7ZM561.7 233.8L575.3 241.5L561.7 249.2ZM573.2 233.3L586.8 241L573.2 248.7ZM583.7 230.3L597.3 238L583.7 245.7ZM594.7 234.8L608.3 242.5L594.7 250.2ZM604.7 235.3L618.3 243L604.7 250.7ZM614.3 230.2L627.9 237.9L614.3 245.6ZM626.7 232L640.3 239.7L626.7 247.4ZM638.2 225.8L651.8 233.5L638.2 241.2ZM648.8 234.4L662.4 242.1L648.8 249.8ZM659.4 235.5L673 243.2L659.4 250.9ZM668 228L681.6 235.7L668 243.4ZM681.9 223.3L695.5 231L681.9 238.7ZM690.3 219L703.9 226.7L690.3 234.4ZM702.6 216.3L716.2 224L702.6 231.7ZM714.5 215.9L728.1 223.6L714.5 231.3ZM723.7 229.6L737.3 237.3L723.7 245ZM733.9 214.1L747.5 221.8L733.9 229.5ZM744 214.1L757.6 221.8L744 229.5ZM755.5 211.1L769.1 218.8L755.5 226.5ZM766.5 204.9L780.1 212.6L766.5 220.3ZM777.5 208.4L791.1 216.1L777.5 223.8ZM789.7 191.3L803.3 199L789.7 206.7ZM809.8 188.6L823.4 196.3L809.8 204ZM801.4 512.7L815 520.4L801.4 528.1Z" stroke="#0000ff" stroke-width="1.7" fill="none" stroke-linejoin="round" stroke-linecap="round"/></g>
<path d="M206.2 586v-8M206.2 16.5v8 M324.8 586v-8M324.8 16.5v8 M443.4 586v-8M443.4 16.5v8 M562.0 586v-8M562.0 16.5v8 M680.6 586v-8M680.6 16.5v8 M799.2 586v-8M799.2 16.5v8 M89 515.7h8M916 515.7h-8 M89 444.3h8M916 444.3h-8 M89 372.8h8M916 372.8h-8 M89 301.4h8M916 301.4h-8 M89 229.9h8M916 229.9h-8 M89 158.5h8M916 158.5h-8 M89 87.0h8M916 87.0h-8" stroke="#3c3c3c" stroke-width="1.7" fill="none"/>
<rect x="89" y="16.5" width="827" height="569.5" fill="none" stroke="#3c3c3c" stroke-width="1.7" stroke-linejoin="round"/>
<g class="tl"><text x="87.7" y="628.5" text-anchor="middle">-5</text><text x="207.8" y="628.5" text-anchor="middle">0</text><text x="324.6" y="628.5" text-anchor="middle">5</text><text x="443.7" y="628.5" text-anchor="middle">10</text><text x="563.2" y="628.5" text-anchor="middle">15</text><text x="680.9" y="628.5" text-anchor="middle">20</text><text x="798.1" y="628.5" text-anchor="middle">25</text><text x="918.0" y="628.5" text-anchor="middle">30</text><text x="75.6" y="598.2" text-anchor="end">-1</text><text x="75.6" y="525.9" text-anchor="end">0</text><text x="75.6" y="454.5" text-anchor="end">1</text><text x="75.6" y="383.0" text-anchor="end">2</text><text x="75.6" y="311.6" text-anchor="end">3</text><text x="75.6" y="240.1" text-anchor="end">4</text><text x="75.6" y="168.7" text-anchor="end">5</text><text x="75.6" y="97.2" text-anchor="end">6</text><text x="75.6" y="26.5" text-anchor="end">7</text></g>
<text class="xl" x="498" y="666">Displacement mm</text>
<text class="yl" transform="translate(35,307) rotate(-90)">Pressure kg/mm<tspan dy="-12" font-size="23.5">2</tspan></text>
</svg>
</body></html>
